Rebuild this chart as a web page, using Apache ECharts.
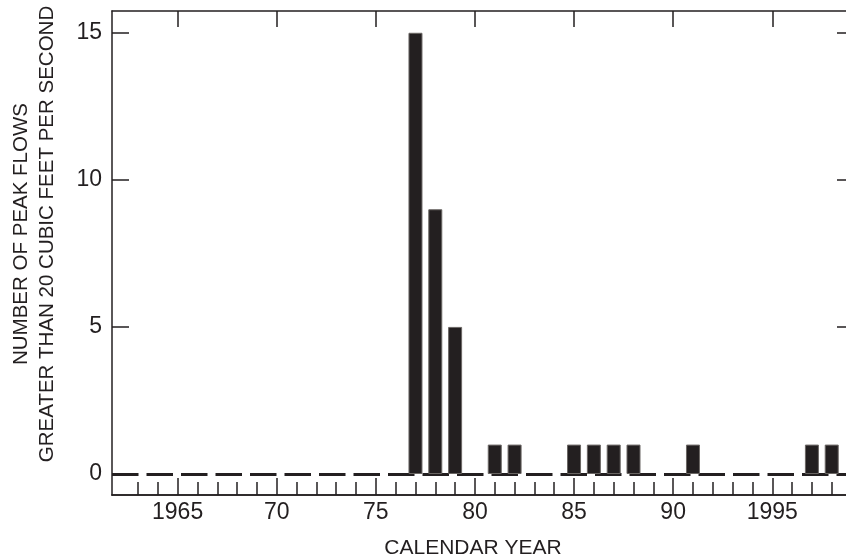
<!DOCTYPE html>
<html>
<head>
<meta charset="utf-8">
<script src="https://cdn.jsdelivr.net/npm/echarts@6/dist/echarts.min.js"></script>
<style>
  html, body { margin: 0; padding: 0; background: #ffffff; }
  #chart { width: 846px; height: 559px; }
</style>
</head>
<body>
<div id="chart"></div>
<script>
// peak flows per calendar year (zero years fall on the dashed base line)
var years = [1962, 1963, 1964, 1965, 1966, 1967, 1968, 1969, 1970, 1971, 1972, 1973,
  1974, 1975, 1976, 1977, 1978, 1979, 1980, 1981, 1982, 1983, 1984, 1985, 1986,
  1987, 1988, 1989, 1990, 1991, 1992, 1993, 1994, 1995, 1996, 1997, 1998];
var peakCounts = [0, 0, 0, 0, 0, 0, 0, 0, 0, 0, 0, 0,
  0, 0, 0, 15, 9, 5, 0, 1, 1, 0, 0, 1, 1,
  1, 1, 0, 0, 1, 0, 0, 0, 0, 0, 1, 1];
var minorYears = [1963, 1964, 1966, 1967, 1968, 1969, 1971, 1972, 1973, 1974, 1976,
  1977, 1978, 1979, 1981, 1982, 1983, 1984, 1986, 1987, 1988, 1989, 1991, 1992,
  1993, 1994, 1996, 1997, 1998];
var majorYears = [1965, 1970, 1975, 1980, 1985, 1990, 1995];
var majorLabels = ['1965', '70', '75', '80', '85', '90', '1995'];
var yTicks = [0, 5, 10, 15];

var ink = '#231f20';
var font = 'Liberation Sans, Arial, Helvetica, sans-serif';

var chart = echarts.init(document.getElementById('chart'));

// only the years with peaks get a bar
var barData = [];
for (var i = 0; i < years.length; i++) {
  if (peakCounts[i] > 0) barData.push([years[i], peakCounts[i]]);
}

// the original figure is cut off on the right, just past 1998
var xMin = 1961.69, xMax = 1998.72;
var yMin = -0.714, yMax = 15.74;

function xAxisBase(pos) {
  return {
    type: 'value',
    position: pos,
    min: xMin,
    max: xMax,
    splitLine: { show: false },
    axisLine: { show: true, onZero: false, lineStyle: { color: ink, width: 1.5 } }
  };
}

var xMajor = xAxisBase('bottom');
xMajor.axisTick = { show: true, inside: true, length: 17, customValues: majorYears,
  lineStyle: { color: ink, width: 1.5 } };
xMajor.axisLabel = { show: true, customValues: majorYears, margin: 6,
  color: ink, fontSize: 23, fontFamily: font,
  formatter: function (v) {
    var k = majorYears.indexOf(Math.round(v));
    return k >= 0 ? majorLabels[k] : '';
  } };

var xMinor = xAxisBase('bottom');
xMinor.axisTick = { show: true, inside: true, length: 13, customValues: minorYears,
  lineStyle: { color: ink, width: 1.5 } };
xMinor.axisLabel = { show: false };

var xTop = xAxisBase('top');
xTop.axisTick = { show: true, inside: true, length: 16, customValues: majorYears,
  lineStyle: { color: ink, width: 1.5 } };
xTop.axisLabel = { show: false };

var yLeft = {
  type: 'value',
  position: 'left',
  min: yMin,
  max: yMax,
  splitLine: { show: false },
  axisLine: { show: true, onZero: false, lineStyle: { color: ink, width: 1.5 } },
  axisTick: { show: true, inside: true, length: 17, customValues: yTicks,
    lineStyle: { color: ink, width: 1.5 } },
  axisLabel: { show: true, customValues: yTicks, margin: 10,
    color: ink, fontSize: 23, fontFamily: font }
};

// right frame edge is off the picture, only the tick stubs show
var yRight = {
  type: 'value',
  position: 'right',
  min: yMin,
  max: yMax,
  splitLine: { show: false },
  axisLine: { show: false },
  axisTick: { show: true, inside: true, length: 9, customValues: yTicks,
    lineStyle: { color: ink, width: 1.5 } },
  axisLabel: { show: false }
};

var option = {
  animation: false,
  backgroundColor: '#ffffff',
  grid: { left: 112, top: 11, right: 0, bottom: 64, containLabel: false },
  xAxis: [xMajor, xMinor, xTop],
  yAxis: [yLeft, yRight],
  graphic: [
    {
      type: 'text', x: 473, y: 548,
      style: { text: 'CALENDAR YEAR', fill: ink, fontSize: 21, fontFamily: font,
        align: 'center', verticalAlign: 'middle' }
    },
    {
      type: 'text', x: 21, y: 234, rotation: Math.PI / 2,
      style: { text: 'NUMBER OF PEAK FLOWS', fill: ink, fontSize: 20.5, fontFamily: font,
        align: 'center', verticalAlign: 'middle' }
    },
    {
      type: 'text', x: 47, y: 234, rotation: Math.PI / 2,
      style: { text: 'GREATER THAN 20 CUBIC FEET PER SECOND', fill: ink, fontSize: 20.5,
        fontFamily: font, align: 'center', verticalAlign: 'middle' }
    }
  ],
  series: [
    {
      name: 'Peak flows',
      type: 'bar',
      xAxisIndex: 0,
      yAxisIndex: 0,
      barWidth: 14,
      data: barData,
      itemStyle: { color: ink, borderColor: '#6b6764', borderWidth: 1 },
      z: 3,
      markLine: {
        silent: true,
        symbol: 'none',
        label: { show: false },
        lineStyle: { color: ink, width: 3, type: [26.5, 8] },
        data: [{ yAxis: 0 }],
        z: 1
      }
    }
  ]
};

chart.setOption(option);
</script>
</body>
</html>
